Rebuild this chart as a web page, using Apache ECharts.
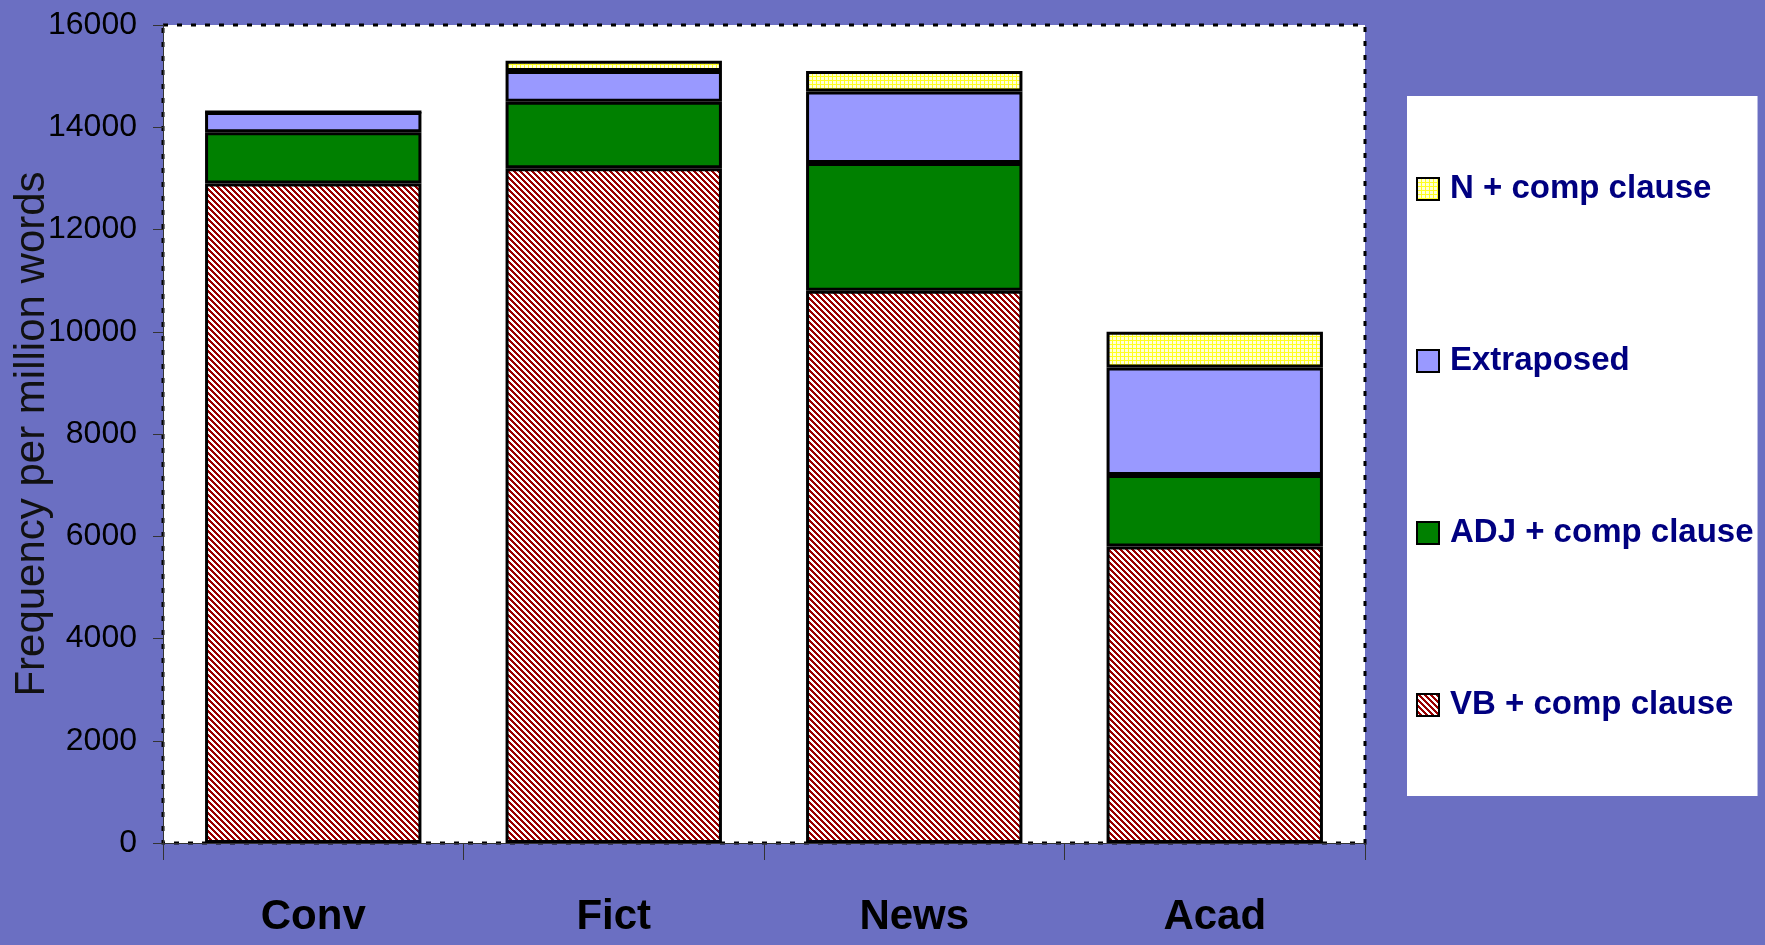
<!DOCTYPE html>
<html>
<head>
<meta charset="utf-8">
<script src="https://cdn.jsdelivr.net/npm/echarts@6/dist/echarts.min.js"></script>
<style>
html,body{margin:0;padding:0;background:#6B6FC2;}
#chart{width:1765px;height:945px;}
</style>
</head>
<body>
<div id="chart"></div>
<script>
const categories = ['Conv', 'Fict', 'News', 'Acad'];
const vbComp = [12900, 13200, 10800, 5800];
const adjComp = [1000, 1300, 2500, 1400];
const extraposed = [400, 600, 1400, 2100];
const nComp = [0, 200, 400, 700];
const yTicks = [0, 2000, 4000, 6000, 8000, 10000, 12000, 14000, 16000];
const seriesNames = ['N + comp clause', 'Extraposed', 'ADJ + comp clause', 'VB + comp clause'];

function hatchPattern() {
  const c = document.createElement('canvas');
  c.width = 6; c.height = 6;
  const ctx = c.getContext('2d');
  for (let y = 0; y < 6; y++) {
    for (let x = 0; x < 6; x++) {
      ctx.fillStyle = (((x - y) % 6 + 6) % 6) < 3 ? '#990000' : '#FFFFFF';
      ctx.fillRect(x, y, 1, 1);
    }
  }
  return { image: c, repeat: 'repeat' };
}
function gridPattern() {
  const c = document.createElement('canvas');
  c.width = 4; c.height = 4;
  const ctx = c.getContext('2d');
  ctx.fillStyle = '#FFFFD8';
  ctx.fillRect(0, 0, 4, 4);
  ctx.fillStyle = '#FFFF20';
  ctx.fillRect(0, 0, 4, 1);
  ctx.fillRect(0, 0, 1, 4);
  return { image: c, repeat: 'repeat' };
}

const chart = echarts.init(document.getElementById('chart'));
const border = { borderColor: '#000', borderWidth: 3 };
const barW = '72%';
const narrow = 'Liberation Sans Narrow, Arial Narrow, Liberation Sans, Arial, sans-serif';

chart.setOption({
  backgroundColor: '#6B6FC2',
  animation: false,
  grid: {
    left: 163, right: 400, top: 25, bottom: 102,
    outerBoundsMode: 'none',
    containLabel: false,
    show: true, backgroundColor: '#FFFFFF',
    borderColor: '#000', borderWidth: 3, borderType: [5, 9]
  },
  legend: {
    orient: 'vertical',
    left: 1407, top: 96,
    data: seriesNames,
    backgroundColor: '#FFFFFF',
    padding: [76, 4, 74, 9],
    itemGap: 138,
    itemWidth: 22, itemHeight: 22,
    icon: 'rect',
    textStyle: {
      fontFamily: 'Liberation Sans, Arial, sans-serif',
      fontWeight: 'bold', fontSize: 33, lineHeight: 34,
      color: '#000080',
      padding: [0, 0, 0, 6]
    }
  },
  xAxis: {
    type: 'category',
    data: categories,
    axisLine: { show: true, lineStyle: { color: '#333', width: 1 } },
    axisTick: { show: true, length: 17, lineStyle: { color: '#333', width: 1 } },
    axisLabel: {
      margin: 53,
      fontFamily: narrow,
      fontWeight: 'bold', fontSize: 42, color: '#000'
    }
  },
  yAxis: {
    type: 'value',
    min: yTicks[0], max: yTicks[yTicks.length - 1], interval: yTicks[1] - yTicks[0],
    name: 'Frequency per million words',
    nameLocation: 'middle', nameRotate: 90, nameGap: 110,
    nameMoveOverlap: false,
    nameTextStyle: { fontFamily: 'Liberation Sans, Arial, sans-serif', fontSize: 42, color: '#111' },
    axisLine: { show: true, lineStyle: { color: '#333', width: 1 } },
    axisTick: { show: true, length: 10, lineStyle: { color: '#333', width: 1 } },
    splitLine: { show: false },
    axisLabel: {
      margin: 26,
      formatter: function (v) { return String(v); },
      fontFamily: narrow,
      fontSize: 32, color: '#000'
    }
  },
  series: [
    { name: 'VB + comp clause', type: 'bar', stack: 'total', barWidth: barW, data: vbComp,
      itemStyle: Object.assign({ color: hatchPattern() }, border) },
    { name: 'ADJ + comp clause', type: 'bar', stack: 'total', barWidth: barW, data: adjComp,
      itemStyle: Object.assign({ color: '#008000' }, border) },
    { name: 'Extraposed', type: 'bar', stack: 'total', barWidth: barW, data: extraposed,
      itemStyle: Object.assign({ color: '#9999FF' }, border) },
    { name: 'N + comp clause', type: 'bar', stack: 'total', barWidth: barW, data: nComp,
      itemStyle: Object.assign({ color: gridPattern() }, border) }
  ]
});
</script>
</body>
</html>
